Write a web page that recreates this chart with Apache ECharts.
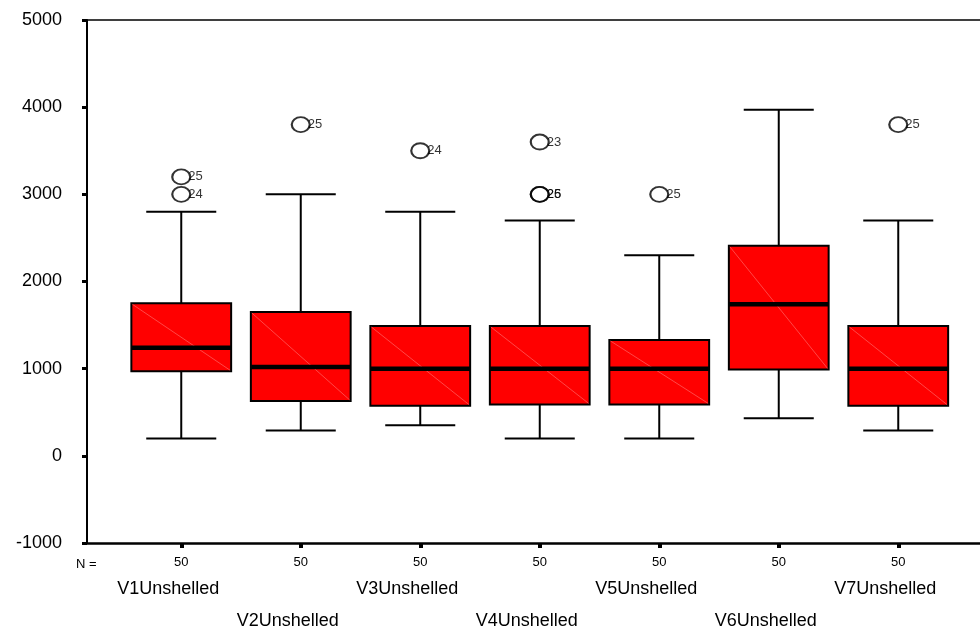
<!DOCTYPE html>
<html>
<head>
<meta charset="utf-8">
<script src="https://cdn.jsdelivr.net/npm/echarts@6/dist/echarts.min.js"></script>
<style>
  html, body { margin: 0; padding: 0; background: #fff; }
  #chart { width: 980px; height: 630px; }
</style>
</head>
<body>
<div id="chart"></div>
<script>
// Unshelled yield by variety: five-number summaries, outliers and case counts
const categories = ['V1Unshelled', 'V2Unshelled', 'V3Unshelled', 'V4Unshelled', 'V5Unshelled', 'V6Unshelled', 'V7Unshelled'];
const lowerWhisker = [200, 290, 350, 200, 200, 430, 290];
const q1 = [970, 630, 575, 590, 590, 990, 575];
const median = [1240, 1020, 1000, 1000, 1000, 1740, 1000];
const q3 = [1750, 1650, 1490, 1490, 1330, 2410, 1490];
const upperWhisker = [2800, 3000, 2800, 2700, 2300, 3970, 2700];
const nValues = [50, 50, 50, 50, 50, 50, 50];
// outliers: [category index, value, case number]
const outliers = [
  [0, 3200, '25'], [0, 3000, '24'],
  [1, 3800, '25'],
  [2, 3500, '24'],
  [3, 3600, '23'], [3, 3000, '25'], [3, 3000, '26'],
  [4, 3000, '25'],
  [6, 3800, '25']
];
const yTicks = { min: -1000, max: 5000, interval: 1000 };

const FONT = 'Liberation Sans, Arial, sans-serif';
const chart = echarts.init(document.getElementById('chart'), null, { renderer: 'canvas' });

const boxData = categories.map((c, i) => [i, lowerWhisker[i], q1[i], median[i], q3[i], upperWhisker[i]]);

function renderBox(params, api) {
  const idx = api.value(0);
  const band = api.size([1, 0])[0];
  const boxW = band * 0.835;
  const capW = band * 0.586;
  const pLow = api.coord([idx, api.value(1)]);
  const pQ1 = api.coord([idx, api.value(2)]);
  const pMed = api.coord([idx, api.value(3)]);
  const pQ3 = api.coord([idx, api.value(4)]);
  const pHigh = api.coord([idx, api.value(5)]);
  const cx = pMed[0];
  const line = (x1, y1, x2, y2, w, col) => ({
    type: 'line',
    shape: { x1, y1, x2, y2 },
    style: { stroke: col || '#000', lineWidth: w }
  });
  return {
    type: 'group',
    children: [
      line(cx, pQ3[1], cx, pHigh[1], 2),
      line(cx, pQ1[1], cx, pLow[1], 2),
      line(cx - capW / 2, pHigh[1], cx + capW / 2, pHigh[1], 2),
      line(cx - capW / 2, pLow[1], cx + capW / 2, pLow[1], 2),
      {
        type: 'rect',
        shape: { x: cx - boxW / 2, y: pQ3[1], width: boxW, height: pQ1[1] - pQ3[1] },
        style: { fill: '#ff0000', stroke: '#000', lineWidth: 2 }
      },
      line(cx - boxW / 2 + 1, pQ3[1] + 1, cx + boxW / 2 - 1, pQ1[1] - 1, 0.6, 'rgba(255,170,170,0.7)'),
      line(cx - boxW / 2, pMed[1], cx + boxW / 2, pMed[1], 4.5)
    ]
  };
}

const option = {
  animation: false,
  backgroundColor: '#fff',
  textStyle: { fontFamily: FONT },
  title: {
    text: 'N =',
    left: 71, top: 553,
    textStyle: { fontFamily: FONT, fontSize: 13, fontWeight: 'normal', color: '#000' }
  },
  grid: [
    { left: 87, right: 0, top: 20, bottom: 87 },
    { left: 121.5, right: 22, top: 20, bottom: 87 }
  ],
  xAxis: [
    {
      gridIndex: 0, type: 'value', min: 0, max: 1, position: 'bottom',
      axisLine: { show: true, onZero: false, lineStyle: { color: '#000', width: 2.5 } },
      axisTick: { show: false }, axisLabel: { show: false }, splitLine: { show: false }
    },
    {
      gridIndex: 0, type: 'value', min: 0, max: 1, position: 'top',
      axisLine: { show: true, onZero: false, lineStyle: { color: '#000', width: 1.5 } },
      axisTick: { show: false }, axisLabel: { show: false }, splitLine: { show: false }
    },
    {
      gridIndex: 1, type: 'category', data: categories, position: 'bottom',
      axisLine: { show: false, onZero: false },
      axisTick: { show: true, alignWithLabel: true, inside: false, length: 5, lineStyle: { color: '#000', width: 4 } },
      splitLine: { show: false },
      axisLabel: {
        interval: 0,
        margin: 12,
        color: '#000',
        formatter: (val, i) => '{n|' + nValues[i] + '}\n' + (i % 2 === 0 ? '{a|' : '{b|') + val + '}',
        rich: {
          n: { fontFamily: FONT, fontSize: 13, lineHeight: 14, color: '#000' },
          a: { fontFamily: FONT, fontSize: 18, lineHeight: 40, color: '#000', padding: [0, 26, 0, 0] },
          b: { fontFamily: FONT, fontSize: 18, lineHeight: 104, color: '#000', padding: [0, 26, 0, 0] }
        }
      }
    }
  ],
  yAxis: [
    {
      gridIndex: 0, type: 'value', min: yTicks.min, max: yTicks.max, interval: yTicks.interval,
      axisLine: { show: true, onZero: false, lineStyle: { color: '#000', width: 2 } },
      axisTick: { show: true, length: 5, lineStyle: { color: '#000', width: 3 } },
      splitLine: { show: false },
      axisLabel: { margin: 25, fontFamily: FONT, fontSize: 18, color: '#000', formatter: v => String(v) }
    },
    {
      gridIndex: 1, type: 'value', min: yTicks.min, max: yTicks.max, interval: yTicks.interval,
      show: false, splitLine: { show: false }
    }
  ],
  series: [
    {
      type: 'custom',
      xAxisIndex: 2, yAxisIndex: 1,
      data: boxData,
      renderItem: renderBox,
      encode: { x: 0, y: [1, 2, 3, 4, 5] },
      z: 2
    },
    {
      type: 'scatter',
      xAxisIndex: 2, yAxisIndex: 1,
      data: outliers,
      symbol: 'circle',
      symbolSize: [18, 15],
      itemStyle: { color: 'rgba(255,255,255,0)', borderColor: '#000', borderWidth: 2 },
      label: {
        show: true,
        position: 'right',
        distance: -3,
        formatter: p => p.data[2],
        fontFamily: FONT, fontSize: 13, color: '#000'
      },
      z: 3
    }
  ]
};

chart.setOption(option);
</script>
</body>
</html>
